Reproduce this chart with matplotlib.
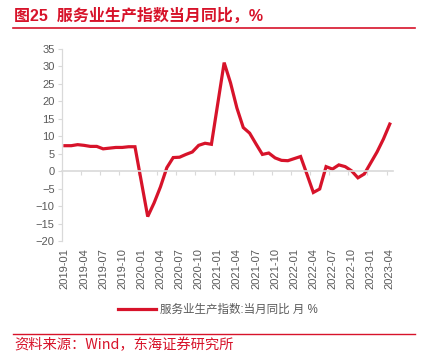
import numpy as np
import pandas as pd
import matplotlib
matplotlib.use("Agg")
import matplotlib.pyplot as plt

plt.rcParams['font.family'] = ['Liberation Sans', 'Noto Sans CJK SC', 'DejaVu Sans']

# monthly data, Jan of 2020-2023 not published (Jan-Feb combined shown in Feb)
months = pd.period_range('2019-01', '2023-04', freq='M').strftime('%Y-%m').tolist()
nan = np.nan
values = [7.3, 7.3, 7.6, 7.4, 7.1, 7.1, 6.4, 6.6, 6.8, 6.8, 7.0, 7.0,
          nan, -13.0, -9.1, -4.5, 1.0, 3.9, 4.0, 4.8, 5.5, 7.4, 8.0, 7.7,
          nan, 31.1, 25.3, 18.1, 12.5, 10.9, 7.8, 4.8, 5.2, 3.8, 3.1, 3.0,
          nan, 4.2, -0.9, -6.1, -5.1, 1.3, 0.6, 1.8, 1.3, 0.1, -1.9, -0.8,
          nan, 5.5, 9.2, 13.5]
series_name = '服务业生产指数:当月同比 月 %'
title = '图25  服务业生产指数当月同比，%'
source = '资料来源：Wind，东海证券研究所'

red = '#D7132A'
gray = '#595959'
light = '#D9D9D9'

s = pd.Series(values, index=np.arange(len(months))).dropna()

fig = plt.figure(figsize=(4.23, 3.51), dpi=100)
ax = fig.add_axes([0.1459, 0.3134, 0.929 - 0.1459, 0.8604 - 0.3134])

ax.plot(s.index, s.values, color=red, lw=2.3, solid_joinstyle='miter', label=series_name)

ax.set_xlim(-0.5, len(months) - 0.5)
ax.set_ylim(-20, 35)
ax.set_yticks(np.arange(-20, 36, 5))
ax.tick_params(axis='y', colors=light, labelcolor=gray, labelsize=8, length=3, width=0.8, pad=2)

for sp in ['top', 'right']:
    ax.spines[sp].set_visible(False)
ax.spines['left'].set_color(light)
ax.spines['left'].set_linewidth(0.9)
# zero line acts as category axis
ax.spines['bottom'].set_position(('data', 0))
ax.spines['bottom'].set_color(light)
ax.spines['bottom'].set_linewidth(1.2)
ax.set_xticks(np.arange(-0.5, len(months), 3))
ax.set_xticklabels([])
ax.tick_params(axis='x', colors=light, length=3, width=0.8)

sec = ax.secondary_xaxis(0)
sec.set_xticks(np.arange(0, len(months), 3))
sec.set_xticklabels(months[::3], rotation=90, fontsize=8, color=gray)
sec.tick_params(length=0, pad=5)
sec.spines['bottom'].set_visible(False)

leg = ax.legend(loc='center', bbox_to_anchor=(0.472, -0.36), frameon=False,
                fontsize=8.3, handlelength=3.3, handletextpad=0.3)
for t in leg.get_texts():
    t.set_color(gray)
    t.set_family(['Liberation Sans', 'Noto Sans CJK SC'])

fig.text(14 / 423, 1 - 16 / 351, title, color=red, fontsize=11.5, fontweight='bold',
         va='center', ha='left', family=['Liberation Sans', 'Noto Sans CJK SC'])
fig.add_artist(plt.Line2D([13 / 423, 415 / 423], [1 - 28 / 351] * 2, color=red, lw=1.2))
fig.add_artist(plt.Line2D([13 / 423, 415 / 423], [1 - 334 / 351] * 2, color=red, lw=1.0))
fig.text(14 / 423, 1 - 345 / 351, source, color=red, fontsize=10.3, va='center', ha='left',
         family=['Noto Sans CJK SC', 'Liberation Sans'])

fig.savefig('out.png', dpi=100)
